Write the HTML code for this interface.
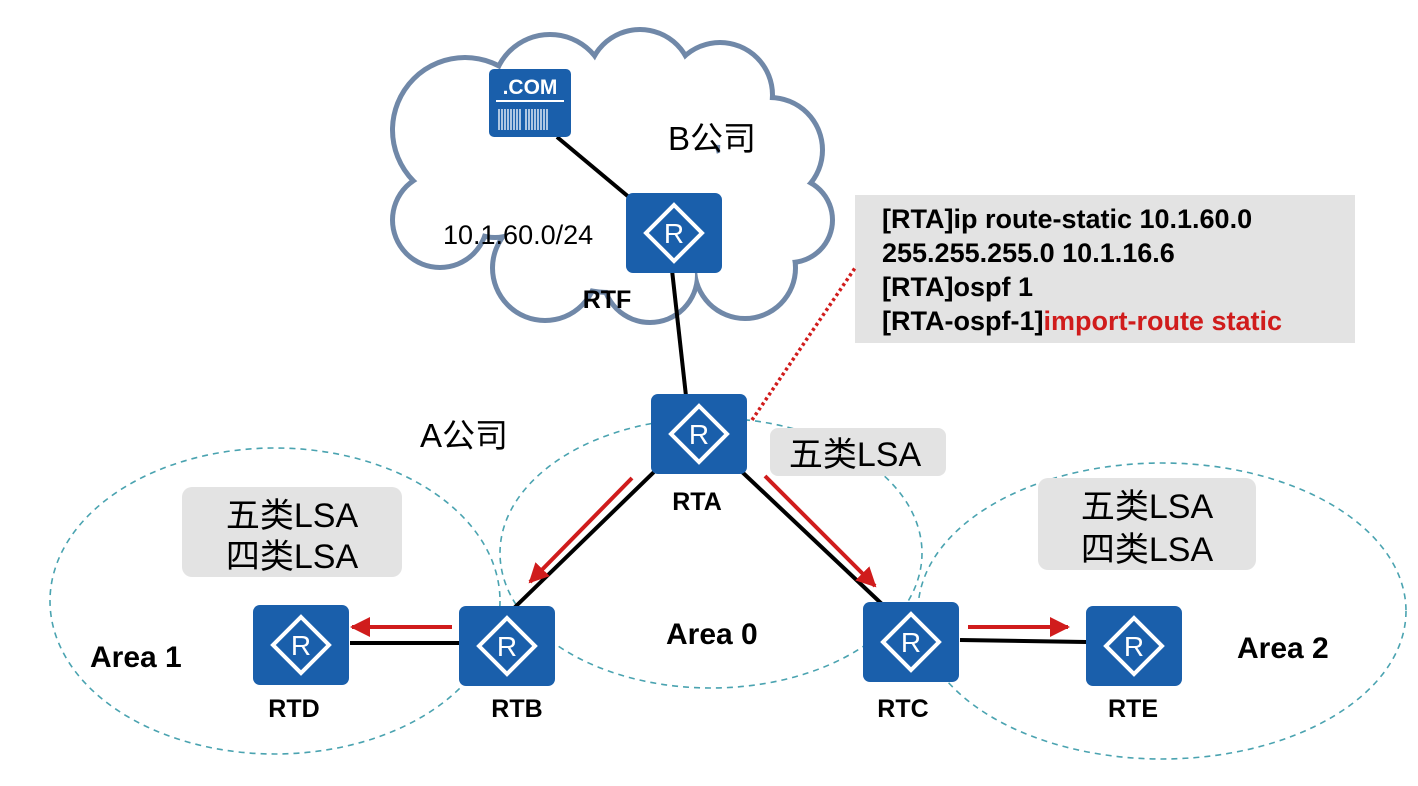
<!DOCTYPE html>
<html><head><meta charset="utf-8"><style>
body{margin:0;background:#fff}
svg{display:block}
text{font-family:"Liberation Sans","Noto Sans CJK SC",sans-serif}
.b{font-weight:bold}
</style></head><body>
<svg width="1418" height="786" viewBox="0 0 1418 786" xmlns="http://www.w3.org/2000/svg">
<defs>
<marker id="ar" markerWidth="6" markerHeight="6" refX="4.5" refY="3" orient="auto" markerUnits="strokeWidth">
<path d="M0,0.5 L5,3 L0,5.5 Z" fill="#d01c1c"/></marker>
<g id="rt">
<rect x="0" y="0" width="96" height="80" rx="7" fill="#1a5fab"/>
<path d="M48,12 L76,40 L48,68 L20,40 Z" fill="none" stroke="#fff" stroke-width="4"/>
<text x="48" y="50" font-size="28" fill="#fff" text-anchor="middle">R</text>
</g>
<g id="cl">
<circle cx="465" cy="130" r="70"/><circle cx="550" cy="92" r="55"/><circle cx="640" cy="82" r="50"/>
<circle cx="720" cy="95" r="50"/><circle cx="770" cy="150" r="50"/><circle cx="790" cy="220" r="40"/>
<circle cx="745" cy="268" r="48"/><circle cx="650" cy="275" r="45"/><circle cx="545" cy="268" r="50"/>
<circle cx="440" cy="220" r="45"/><circle cx="610" cy="180" r="110"/>
<circle cx="495" cy="195" r="40"/><circle cx="735" cy="195" r="45"/>
</g>
</defs>
<!-- cloud -->
<use href="#cl" stroke="#7088a8" stroke-width="10" fill="#7088a8"/>
<use href="#cl" fill="#fff"/>
<!-- ellipses -->
<g fill="none" stroke="#4aa3b0" stroke-width="1.6" stroke-dasharray="6,5">
<ellipse cx="275" cy="601" rx="225" ry="153"/>
<ellipse cx="711" cy="553" rx="211" ry="135"/>
<ellipse cx="1162" cy="611" rx="244" ry="148"/>
</g>
<!-- gray boxes -->
<rect x="855" y="195" width="500" height="148" fill="#e3e3e3"/>
<rect x="182" y="487" width="220" height="90" rx="10" fill="#e3e3e3"/>
<rect x="770" y="428" width="176" height="48" rx="8" fill="#e3e3e3"/>
<rect x="1038" y="478" width="218" height="92" rx="10" fill="#e3e3e3"/>
<!-- links -->
<g stroke="#000" stroke-width="4">
<line x1="557" y1="137" x2="630" y2="198"/>
<line x1="672" y1="270" x2="686" y2="396"/>
<line x1="656" y1="470" x2="512" y2="610"/>
<line x1="740" y1="470" x2="884" y2="606"/>
<line x1="350" y1="643" x2="460" y2="643"/>
<line x1="960" y1="640" x2="1086" y2="642"/>
</g>
<g stroke="#d01c1c" stroke-width="4" fill="none">
<line x1="632" y1="478" x2="530" y2="582" marker-end="url(#ar)"/>
<line x1="765" y1="476" x2="875" y2="586" marker-end="url(#ar)"/>
<line x1="452" y1="627" x2="352" y2="627" marker-end="url(#ar)"/>
<line x1="968" y1="627" x2="1068" y2="627" marker-end="url(#ar)"/>
<line x1="752" y1="420" x2="855" y2="268" stroke-width="3.5" stroke-dasharray="3,3"/>
</g>
<!-- COM server -->
<rect x="489" y="69" width="82" height="68" rx="5" fill="#1a5fab"/>
<text x="530" y="94" font-size="21" class="b" fill="#fff" text-anchor="middle">.COM</text>
<line x1="496" y1="101" x2="564" y2="101" stroke="#fff" stroke-width="2"/>
<g stroke="#fff" stroke-width="1.3">
<path d="M499,109V130M502,109V130M505,109V130M508,109V130M511,109V130M514,109V130M517,109V130M520,109V130M526,109V130M529,109V130M532,109V130M535,109V130M538,109V130M541,109V130M544,109V130M547,109V130"/>
</g>
<!-- routers -->
<use href="#rt" x="626" y="193"/>
<use href="#rt" x="651" y="394"/>
<use href="#rt" x="459" y="606"/>
<use href="#rt" x="253" y="605"/>
<use href="#rt" x="863" y="602"/>
<use href="#rt" x="1086" y="606"/>
<!-- labels -->
<g font-size="25" class="b" text-anchor="middle">
<text x="607" y="308">RTF</text>
<text x="697" y="510">RTA</text>
<text x="517" y="717">RTB</text>
<text x="294" y="717">RTD</text>
<text x="903" y="717">RTC</text>
<text x="1133" y="717">RTE</text>
</g>
<g font-size="30" class="b">
<text x="90" y="667">Area 1</text>
<text x="666" y="644">Area 0</text>
<text x="1237" y="658">Area 2</text>
</g>
<text x="668" y="150" font-size="33">B公司</text>
<text x="420" y="447" font-size="33">A公司</text>
<text x="443" y="244" font-size="27">10.1.60.0/24</text>
<g font-size="34" text-anchor="middle">
<text x="292" y="527">五类LSA</text>
<text x="292" y="568">四类LSA</text>
<text x="855" y="466">五类LSA</text>
<text x="1147" y="518">五类LSA</text>
<text x="1147" y="561">四类LSA</text>
</g>
<g font-size="27" class="b">
<text x="882" y="228">[RTA]ip route-static 10.1.60.0</text>
<text x="882" y="262">255.255.255.0 10.1.16.6</text>
<text x="882" y="296">[RTA]ospf 1</text>
<text x="882" y="330">[RTA-ospf-1]<tspan fill="#d01c1c">import-route static</tspan></text>
</g>
</svg>
</body></html>
